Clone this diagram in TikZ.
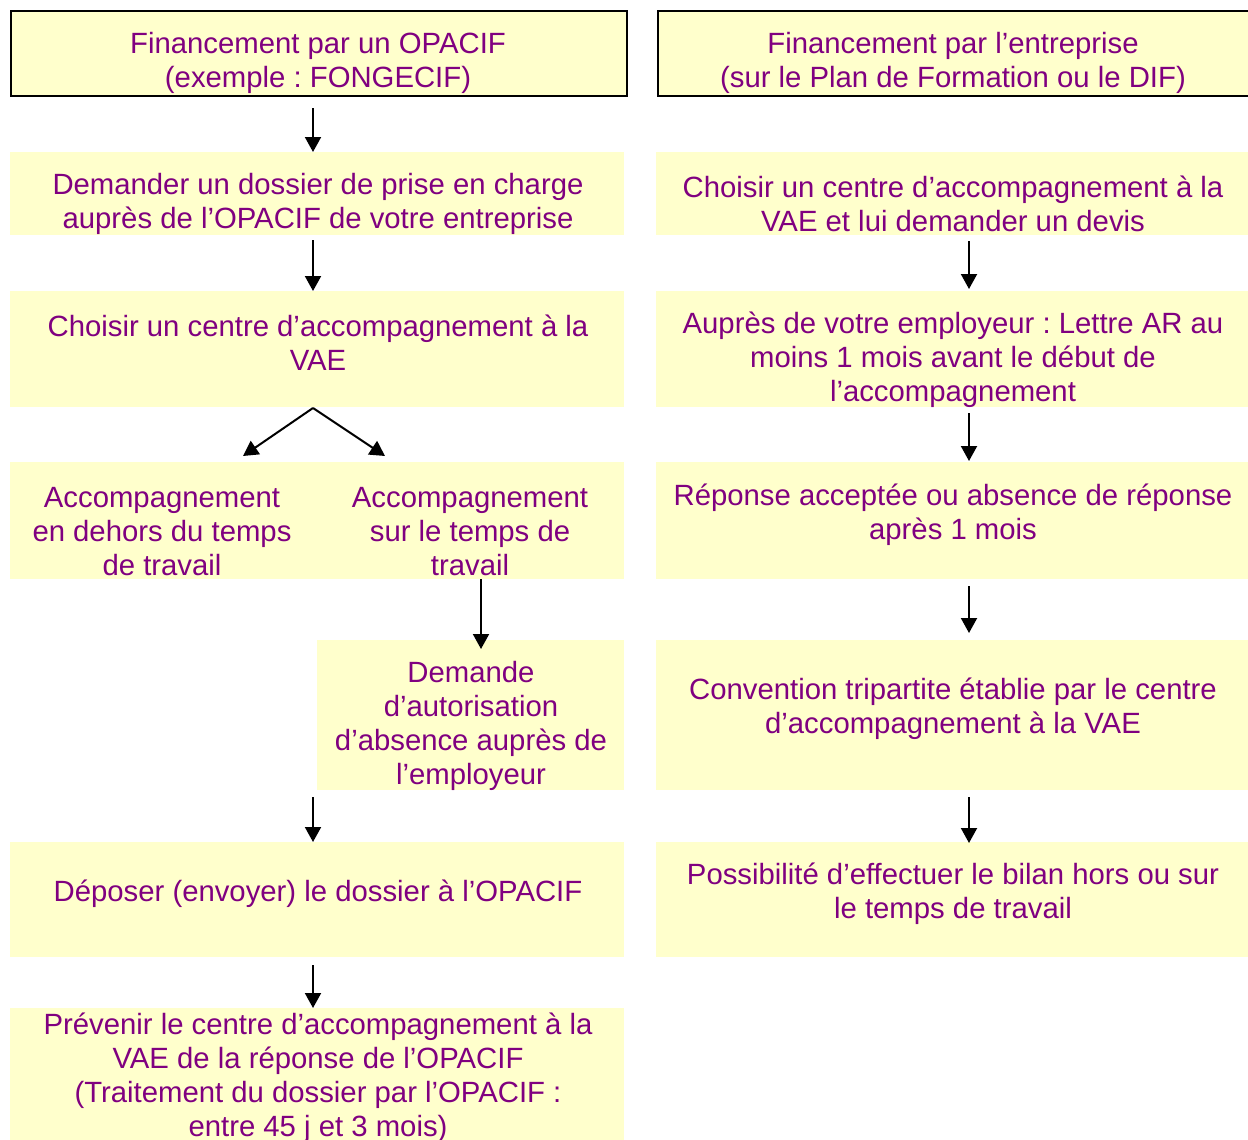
\documentclass[tikz,border=0pt]{standalone}
\usepackage{fontspec}
\setmainfont{Liberation Sans}
\usetikzlibrary{arrows.meta}
\definecolor{boxfill}{RGB}{255,255,204}
\definecolor{txtcol}{RGB}{128,0,128}
\frenchspacing
\begin{document}
\begin{tikzpicture}[x=0.5pt,y=-0.5pt,
  box/.style={fill=boxfill, inner sep=0pt, anchor=north west},
  txt/.style={text=txtcol, align=center, inner sep=0pt, yshift=-1.2pt, font=\fontsize{14.65}{17}\selectfont},
  arr/.style={draw=black, line width=1pt, -{Triangle[width=8pt,length=7.5pt]}}]
\useasboundingbox (0,0) rectangle (1248,1140);
% top boxes
\node[box, draw=black, line width=1pt, minimum width=308pt, minimum height=42.5pt] (topL) at (10,10) {};
\node[box, draw=black, line width=1pt, minimum width=305pt, minimum height=42.5pt] (topR) at (657,10) {};
\node[txt] (ttopL) at (318,60.5) {Financement par un OPACIF\\(exemple : FONGECIF)};
\node[txt] (ttopR) at (953,60.5) {Financement par l’entreprise\\(sur le Plan de Formation ou le DIF)};
% left column
\node[box, minimum width=307pt, minimum height=41.5pt] (b1) at (10,152) {};
\node[txt] (tb1) at (318,201.5) {Demander un dossier de prise en charge\\auprès de l’OPACIF de votre entreprise};
\node[box, minimum width=307pt, minimum height=58pt] (b2) at (10,291) {};
\node[txt] (tb2) at (318,340) {Choisir un centre d’accompagnement à la\\VAE};
\node[box, minimum width=158.5pt, minimum height=58.5pt] (b3a) at (10,462) {};
\node[box, minimum width=148.5pt, minimum height=58.5pt] (b3b) at (327,462) {};
\node[txt] (tb3a) at (162,529) {Accompagnement\\en dehors du temps\\de travail};
\node[txt] (tb3b) at (470,529) {Accompagnement\\sur le temps de\\travail};
\node[box, minimum width=153.5pt, minimum height=75pt] (b4) at (317,640) {};
\node[txt] (tb4) at (471,723.5) {Demande\\d’autorisation\\d’absence auprès de\\l’employeur};
\node[box, minimum width=307pt, minimum height=57.5pt] (b5) at (10,842) {};
\node[txt] (tb5) at (318,891) {Déposer (envoyer) le dossier à l’OPACIF};
\node[box, minimum width=307pt, minimum height=70pt] (b6) at (10,1008) {};
\node[txt] (tb6) at (318,1075.5) {Prévenir le centre d’accompagnement à la\\VAE de la réponse de l’OPACIF\\(Traitement du dossier par l’OPACIF :\\entre 45 j et 3 mois)};
% right column
\node[box, minimum width=300pt, minimum height=41.5pt] (r1) at (656,152) {};
\node[txt] (tr1) at (953,201.5) {Choisir un centre d’accompagnement à la\\VAE et lui demander un devis};
\node[box, minimum width=300pt, minimum height=58pt] (r2) at (656,291) {};
\node[txt] (tr2) at (953,357) {Auprès de votre employeur : Lettre AR au\\moins 1 mois avant le début de\\l’accompagnement};
\node[box, minimum width=300pt, minimum height=58.5pt] (r3) at (656,462) {};
\node[txt] (tr3) at (953,512) {Réponse acceptée ou absence de réponse\\après 1 mois};
\node[box, minimum width=300pt, minimum height=75pt] (r4) at (656,640) {};
\node[txt] (tr4) at (953,706) {Convention tripartite établie par le centre\\d’accompagnement à la VAE};
\node[box, minimum width=300pt, minimum height=57.5pt] (r5) at (656,842) {};
\node[txt] (tr5) at (953,891) {Possibilité d’effectuer le bilan hors ou sur\\le temps de travail};
% arrow start points
\coordinate (a1) at (313,108);
\coordinate (a2) at (313,240);
\coordinate (fk) at (313,408);
\coordinate (fkL) at (243,456);
\coordinate (fkR) at (385,456);
\coordinate (a4) at (481,579);
\coordinate (a4e) at (481,649);
\coordinate (a5) at (313,797);
\coordinate (a6) at (313,965);
\coordinate (c1) at (969,241);
\coordinate (c1e) at (969,289);
\coordinate (c2) at (969,413);
\coordinate (c2e) at (969,461);
\coordinate (c3) at (969,586);
\coordinate (c3e) at (969,633);
\coordinate (c4) at (969,797);
\coordinate (c4e) at (969,843);
% arrows
\draw[arr] (a1) -- (a1 |- b1.north);
\draw[arr] (a2) -- (a2 |- b2.north);
\draw[arr] (fk) -- (fkL);
\draw[arr] (fk) -- (fkR);
\draw[arr] (a4) -- (a4e);
\draw[arr] (a5) -- (a5 |- b5.north);
\draw[arr] (a6) -- (a6 |- b6.north);
\draw[arr] (c1) -- (c1e);
\draw[arr] (c2) -- (c2e);
\draw[arr] (c3) -- (c3e);
\draw[arr] (c4) -- (c4e);
\end{tikzpicture}
\end{document}
